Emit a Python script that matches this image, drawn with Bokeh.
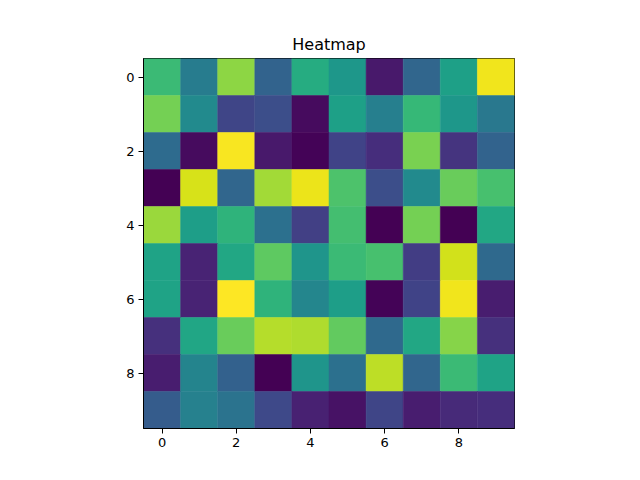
import numpy as np
from bokeh.plotting import figure
from bokeh.models import ColumnDataSource, FixedTicker
from bokeh.transform import linear_cmap
from bokeh.palettes import Viridis256
from bokeh.embed import file_html
from bokeh.resources import INLINE

title = "Heatmap"
rows = list(range(10))
cols = list(range(10))
values = [
    [0.68, 0.42, 0.83, 0.32, 0.62, 0.53, 0.07, 0.33, 0.57, 0.98],
    [0.79, 0.48, 0.21, 0.24, 0.03, 0.57, 0.43, 0.67, 0.53, 0.40],
    [0.35, 0.03, 0.99, 0.07, 0.01, 0.20, 0.13, 0.80, 0.15, 0.32],
    [0.00, 0.94, 0.33, 0.86, 0.97, 0.72, 0.24, 0.48, 0.77, 0.71],
    [0.85, 0.56, 0.65, 0.37, 0.19, 0.70, 0.00, 0.79, 0.00, 0.60],
    [0.58, 0.10, 0.60, 0.75, 0.52, 0.68, 0.71, 0.18, 0.93, 0.34],
    [0.58, 0.10, 1.00, 0.65, 0.46, 0.56, 0.01, 0.20, 0.98, 0.08],
    [0.14, 0.59, 0.77, 0.89, 0.88, 0.76, 0.34, 0.60, 0.82, 0.14],
    [0.08, 0.45, 0.31, 0.00, 0.52, 0.37, 0.90, 0.33, 0.68, 0.58],
    [0.29, 0.44, 0.38, 0.22, 0.09, 0.05, 0.21, 0.08, 0.12, 0.13],
]
ticks = [0, 2, 4, 6, 8]

xs, ys, vs = [], [], []
for r in rows:
    for c in cols:
        xs.append(c)
        ys.append(r)
        vs.append(values[r][c])
src = ColumnDataSource(dict(x=xs, y=ys, v=vs))

vmin = min(vs)
vmax = max(vs)
mapper = linear_cmap("v", Viridis256, vmin, vmax)

p = figure(width=640, height=480, output_backend="svg", toolbar_location=None,
           x_range=(-0.5, 9.5), y_range=(9.5, -0.5),
           min_border_left=143, min_border_right=126, min_border_top=58, min_border_bottom=52,
           title=title)
p.rect(x="x", y="y", width=1, height=1, source=src, fill_color=mapper, line_color=mapper, line_width=0.5)

p.title.align = "center"
p.title.text_font = "DejaVu Sans"
p.title.text_font_size = "16px"
p.title.text_font_style = "normal"
p.title.text_color = "#000000"

p.grid.visible = False
p.outline_line_color = "black"
p.outline_line_width = 1
p.background_fill_color = "white"
p.border_fill_color = "white"

for ax in (p.xaxis[0], p.yaxis[0]):
    ax.ticker = FixedTicker(ticks=ticks)
    ax.minor_tick_line_color = None
    ax.major_tick_out = 5
    ax.major_tick_in = 0
    ax.major_tick_line_color = "black"
    ax.axis_line_color = "black"
    ax.major_label_text_font = "DejaVu Sans"
    ax.major_label_text_font_size = "13px"
    ax.major_label_text_color = "black"
    ax.major_label_standoff = 4

with open("out.html", "w") as f:
    f.write(file_html(p, INLINE))
